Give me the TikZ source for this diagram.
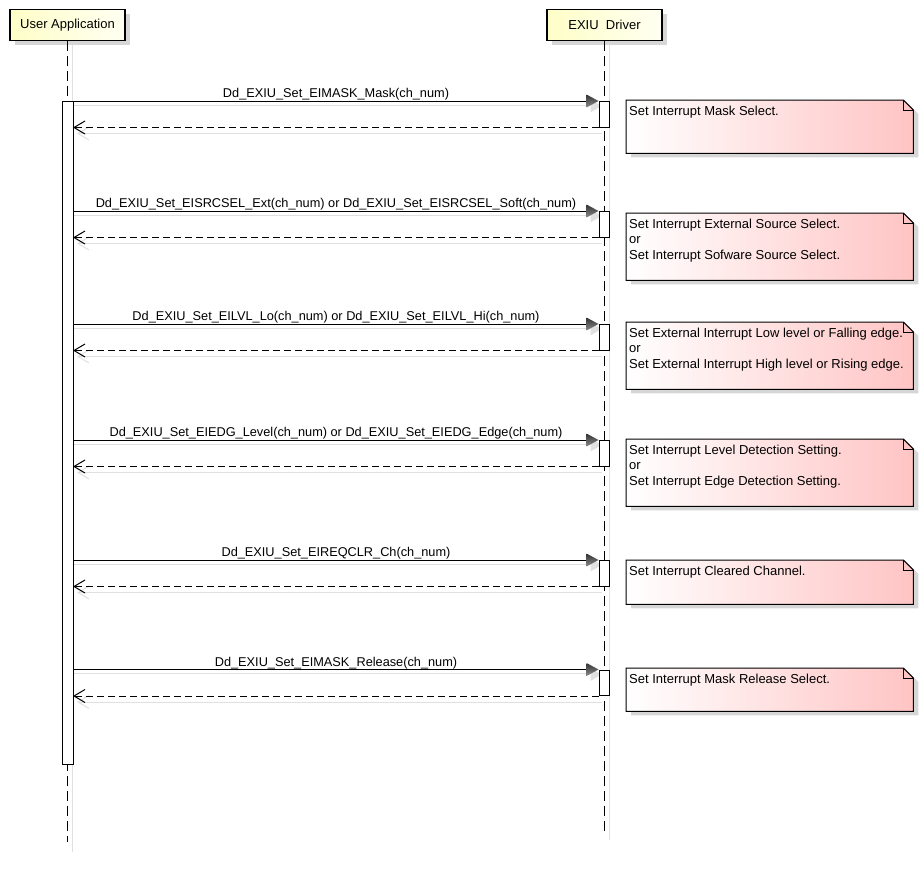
\documentclass[tikz,border=0pt]{standalone}
\usepackage{fontspec}
\setmainfont{Liberation Sans}
\usetikzlibrary{calc,shadows,backgrounds}
\definecolor{partyellow}{RGB}{254,254,200}
\definecolor{partlight}{RGB}{255,255,242}
\definecolor{notepink}{RGB}{255,196,196}
\definecolor{shadowgray}{RGB}{214,214,214}
\definecolor{lightline}{RGB}{224,224,224}
\begin{document}
\begin{tikzpicture}[x=1pt,y=-1pt,
  every node/.style={font=\fontsize{13}{15.6}\selectfont},
  boxshadow/.style={drop shadow={shadow xshift=5pt,shadow yshift=-4pt,fill=shadowgray,opacity=1}},
  partbox/.style={draw=black,line width=1.6pt,left color=partyellow,right color=partlight,
    minimum width=115pt,minimum height=31pt,inner sep=0pt,boxshadow},
  lifeline/.style={line width=1pt,dash pattern=on 10pt off 5pt},
  shadowline/.style={draw=lightline,line width=1pt},
  actbar/.style={draw=black,fill=white,line width=1pt,minimum width=10pt,inner sep=0pt},
  msg/.style={line width=1pt},
  retmsg/.style={line width=1pt,dash pattern=on 7pt off 4pt},
  headfill/.style={top color=black!80,bottom color=black!45},
  notefill/.style={left color=white,right color=notepink,draw=black,line width=1pt},
  notetext/.style={anchor=north west,align=left,inner sep=0pt},
  msglabel/.style={anchor=base,inner sep=0pt,font=\fontsize{12.75}{15}\selectfont}
]
\useasboundingbox (0,0) rectangle (923,878);

% participants
\node[partbox] (ua) at (67.5,25) {User Application};
\node[partbox] (drv) at (604.5,25) {EXIU\ \ Driver};

% lifelines with their soft shadows
\coordinate (uaend) at (67.5,842);
\coordinate (drvend) at (604.5,835);
\draw[shadowline] ($(ua.south)+(5,4)$) -- ($(uaend)+(5,10)$);
\draw[shadowline] ($(drv.south)+(5,4)$) -- ($(drvend)+(5,5)$);
\draw[lifeline] (ua.south) -- (uaend);
\draw[lifeline] (drv.south) -- (drvend);

% activation of the caller
\node[actbar,minimum width=11pt,minimum height=663pt,anchor=north west] (ub) at (62,101) {};

% calls, returns and notes
\foreach \i/\ya/\lab/\nt/\nh/\txt in {
  1/101/{Dd\_EXIU\_Set\_EIMASK\_Mask(ch\_num)}/100/53/{Set Interrupt Mask Select.},
  2/211/{Dd\_EXIU\_Set\_EISRCSEL\_Ext(ch\_num) or Dd\_EXIU\_Set\_EISRCSEL\_Soft(ch\_num)}/213/67/{Set Interrupt External Source Select.\\or\\Set Interrupt Sofware Source Select.},
  3/324/{Dd\_EXIU\_Set\_EILVL\_Lo(ch\_num) or Dd\_EXIU\_Set\_EILVL\_Hi(ch\_num)}/322/67/{Set External Interrupt Low level or Falling edge.\\or\\Set External Interrupt High level or Rising edge.},
  4/440/{Dd\_EXIU\_Set\_EIEDG\_Level(ch\_num) or Dd\_EXIU\_Set\_EIEDG\_Edge(ch\_num)}/439/67/{Set Interrupt Level Detection Setting.\\or\\Set Interrupt Edge Detection Setting.},
  5/560/{Dd\_EXIU\_Set\_EIREQCLR\_Ch(ch\_num)}/560/44/{Set Interrupt Cleared Channel.},
  6/669.5/{Dd\_EXIU\_Set\_EIMASK\_Release(ch\_num)}/668/43/{Set Interrupt Mask Release Select.}
}{
  % callee activation
  \node[actbar,minimum height=25.5pt,anchor=north] (b\i) at (604,\ya) {};
  \coordinate (r\i) at (ub.east|-b\i.south west);
  % shadows of call and return
  \begin{scope}[on background layer]
    \draw[shadowline] ($(ub.east|-b\i.north west)+(0,4)$) -- ($(b\i.north west)+(-8,4)$);
    \fill[lightline] ($(b\i.north west)+(-8,-1.5)$) -- ($(b\i.north west)+(3,5)$) -- ($(b\i.north west)+(-8,11.5)$) -- cycle;
    \draw[shadowline] ($(r\i)+(5,6)$) -- ($(b\i.south west)+(3,6)$);
    \draw[shadowline] ($(r\i)+(15,-0.5)$) -- ($(r\i)+(4,6)$) -- ($(r\i)+(15,12.5)$);
  \end{scope}
  % call
  \draw[msg] (ub.east|-b\i.north west) -- ($(b\i.north west)+(-11,0)$);
  \shade[headfill] ($(b\i.north west)+(-12,-6.5)$) -- (b\i.north west) -- ($(b\i.north west)+(-12,6.5)$) -- cycle;
  \node[msglabel] (l\i) at (336,{\ya-3.5}) {\lab};
  % return
  \draw[retmsg] (b\i.south west) -- (r\i);
  \draw[msg] ($(r\i)+(11,-6.5)$) -- (r\i) -- ($(r\i)+(11,6.5)$);
  % note
  \node[minimum width=287pt,minimum height=\nh*1pt,anchor=north west,inner sep=0pt] (n\i) at (626,\nt) {};
  \shade[notefill,boxshadow] (n\i.north west) -- ($(n\i.north east)+(-10,0)$) -- ($(n\i.north east)+(0,10)$)
    -- (n\i.south east) -- (n\i.south west) -- cycle;
  \draw[line width=1pt] ($(n\i.north east)+(-10,0)$) -- ++(0,10) -- ++(10,0);
  \node[notetext] (t\i) at ($(n\i.north west)+(3,3)$) {\rule{0pt}{12pt}\txt};
}
\end{tikzpicture}
\end{document}
